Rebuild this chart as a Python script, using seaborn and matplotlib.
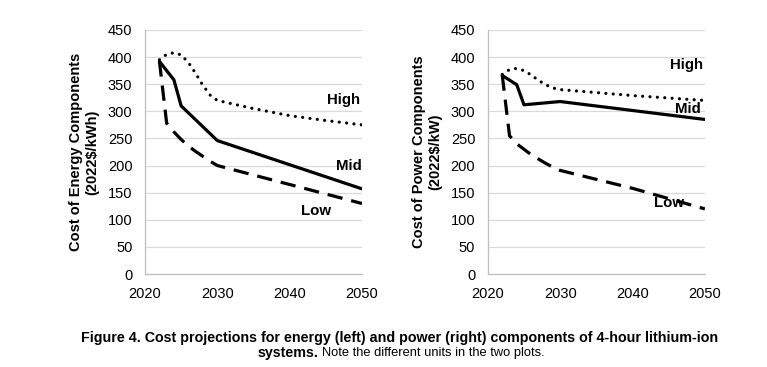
import matplotlib
matplotlib.use("Agg")
import matplotlib.pyplot as plt
import seaborn as sns
import pandas as pd

# ---- data ----
energy_high_years = [2022, 2023, 2024, 2025, 2026, 2027, 2028, 2029, 2030, 2035, 2040, 2045, 2050]
energy_high = [395, 405, 408, 404, 390, 370, 348, 330, 320, 305, 292, 283, 275]
energy_mid_years = [2022, 2024, 2025, 2030, 2050]
energy_mid = [392, 358, 310, 246, 157]
energy_low_years = [2022, 2023, 2024, 2025, 2026, 2027, 2028, 2029, 2030, 2040, 2050]
energy_low = [392, 278, 262, 248, 236, 226, 217, 208, 200, 165, 130]

power_high_years = [2022, 2023, 2024, 2025, 2026, 2027, 2028, 2029, 2030, 2040, 2050]
power_high = [368, 377, 379, 375, 367, 357, 349, 343, 340, 329, 320]
power_mid_years = [2022, 2024, 2025, 2030, 2050]
power_mid = [366, 349, 312, 318, 285]
power_low_years = [2022, 2023, 2024, 2025, 2026, 2027, 2028, 2029, 2030, 2040, 2050]
power_low = [366, 255, 240, 230, 220, 212, 204, 197, 191, 158, 120]

scenario_labels = ["High", "Mid", "Low"]
energy_label_pos = [(2047.4, 320), (2048.2, 199), (2043.7, 116)]
power_label_pos = [(2047.5, 386), (2047.6, 305), (2045.1, 130)]

y_ticks = [0, 50, 100, 150, 200, 250, 300, 350, 400, 450]
x_ticks = [2020, 2030, 2040, 2050]

sns.set_theme(style="white")
plt.rcParams['font.family'] = ['Liberation Sans', 'DejaVu Sans']
plt.rcParams['text.color'] = 'black'
plt.rcParams['xtick.color'] = 'black'
plt.rcParams['ytick.color'] = 'black'
plt.rcParams['axes.labelcolor'] = 'black'

fig = plt.figure(figsize=(7.67, 3.67), dpi=100)
ax1 = fig.add_axes([0.189, 0.2534, 0.283, 0.665])
ax2 = fig.add_axes([0.636, 0.2534, 0.283, 0.665])

styles = {"High": (0, (0.01, 2.3)), "Mid": "-", "Low": (0, (4.8, 2.8))}


def draw(ax, series, label_pos, ylabel):
    for name, (yrs, vals) in zip(scenario_labels, series):
        df = pd.DataFrame({"Year": yrs, "Cost": vals})
        ls = styles[name]
        sns.lineplot(data=df, x="Year", y="Cost", ax=ax, color="black",
                     linewidth=2.3, linestyle=ls,
                     dash_capstyle="round" if name == "High" else "butt")
    for name, (x, y) in zip(scenario_labels, label_pos):
        ax.text(x, y, name, ha="center", va="center", fontsize=10.8,
                fontweight="bold", color="black")
    ax.set_xlim(2020, 2050)
    ax.set_ylim(0, 450)
    ax.set_xticks(x_ticks)
    ax.set_yticks(y_ticks)
    ax.tick_params(axis="both", labelsize=10.5, length=0)
    ax.tick_params(axis="y", pad=9)
    ax.tick_params(axis="x", pad=9)
    ax.grid(axis="y", color="#d9d9d9", linewidth=0.9)
    ax.set_axisbelow(True)
    for s in ["top", "right"]:
        ax.spines[s].set_visible(False)
    for s in ["left", "bottom"]:
        ax.spines[s].set_color("#bfbfbf")
        ax.spines[s].set_linewidth(0.9)
    ax.set_xlabel("")
    ax.set_ylabel(ylabel, fontsize=10.5, fontweight="bold", labelpad=6,
                  linespacing=1.2)


draw(ax1, [(energy_high_years, energy_high), (energy_mid_years, energy_mid),
           (energy_low_years, energy_low)], energy_label_pos,
     "Cost of Energy Components\n(2022$/kWh)")
draw(ax2, [(power_high_years, power_high), (power_mid_years, power_mid),
           (power_low_years, power_low)], power_label_pos,
     "Cost of Power Components\n(2022$/kW)")

fig.text(400 / 767, 1 - 338 / 367,
         "Figure 4. Cost projections for energy (left) and power (right) components of 4-hour lithium-ion",
         ha="center", va="center", fontsize=10.3, fontweight="bold")
fig.text(318 / 767, 1 - 353 / 367, "systems.", ha="right", va="center",
         fontsize=10.3, fontweight="bold")
fig.text(322 / 767, 1 - 353 / 367, "Note the different units in the two plots.",
         ha="left", va="center", fontsize=9.3)

fig.savefig("out.png", dpi=100)
